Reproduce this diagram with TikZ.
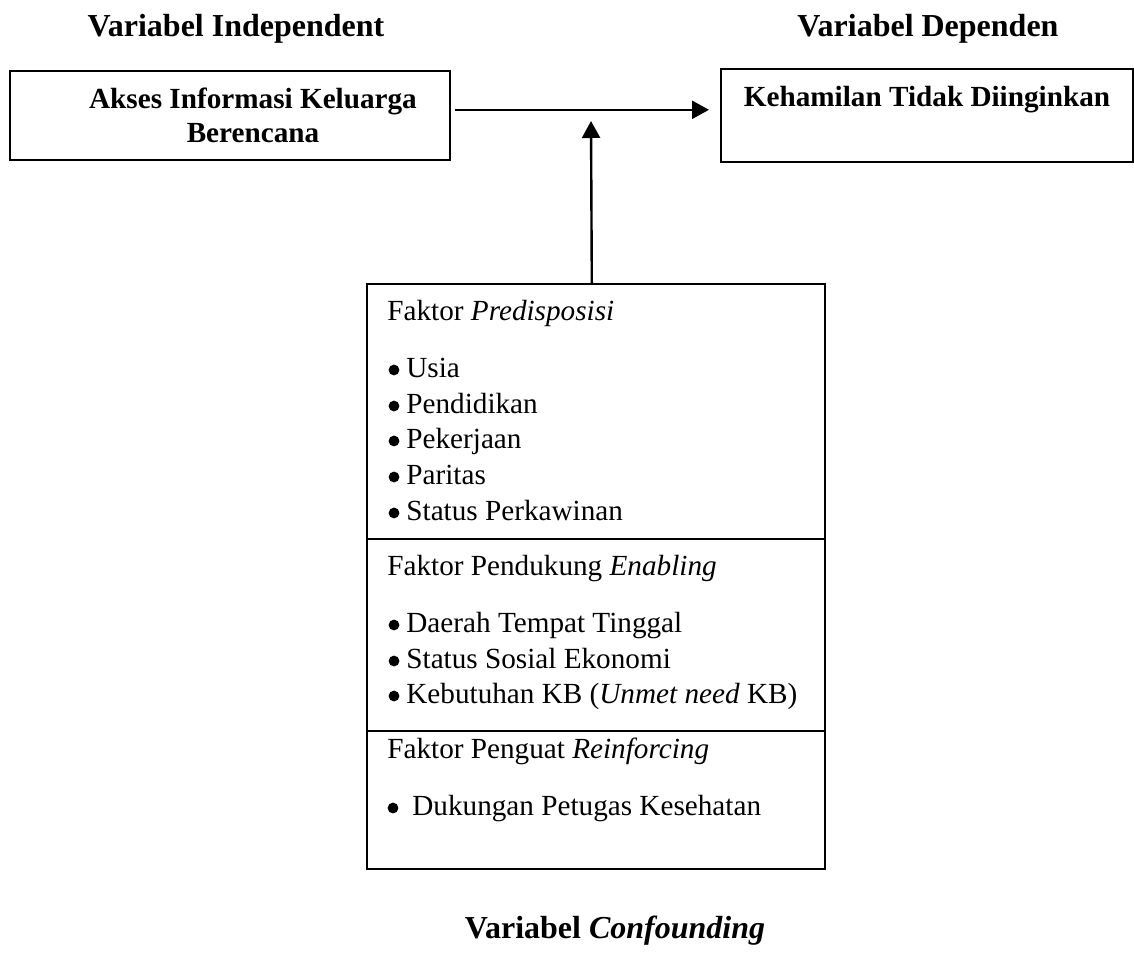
\documentclass[tikz,border=0pt]{standalone}
\usepackage{fontspec}
\setmainfont{Liberation Serif}
\usetikzlibrary{arrows.meta}
\begin{document}
\begin{tikzpicture}[x=0.5pt,y=-0.5pt,
  box/.style={draw, line width=0.8pt, rectangle, inner sep=0pt, anchor=north west},
  head/.style={font=\fontsize{16}{19}\selectfont\bfseries, inner sep=0pt, anchor=base},
  title/.style={font=\fontsize{14.6}{17}\selectfont\bfseries, inner sep=0pt, anchor=base},
  body/.style={font=\fontsize{14.6}{17}\selectfont, inner sep=0pt, anchor=base west},
  bul/.style={circle, fill=black, inner sep=0pt, minimum size=5.4pt},
  arr/.style={line width=1.2pt, -{Triangle[width=9pt,length=8.5pt]}}
]
\useasboundingbox (0,0) rectangle (1134,954);

% headings
\node[head] (hind) at (236,36) {Variabel Independent};
\node[head] (hdep) at (928,36) {Variabel Dependen};
\node[head] (hconf) at (615,938) {Variabel \textit{Confounding}};

% top boxes
\node[box, minimum width=220pt, minimum height=44.5pt] (lbox) at (9,70) {};
\node[title] (lt1) at (253,108) {Akses Informasi Keluarga};
\node[title] (lt2) at (253,142) {Berencana};

\node[box, minimum width=206pt, minimum height=46.5pt] (rbox) at (720,68) {};
\node[title] (rt) at (927,106) {Kehamilan Tidak Diinginkan};

% confounding box, three sections
\node[box, minimum width=229pt, minimum height=127.5pt] (sec1) at (366,283) {};
\node[box, minimum width=229pt, minimum height=96pt] (sec2) at (366,538) {};
\node[box, minimum width=229pt, minimum height=69pt] (sec3) at (366,730) {};

\node[body] (t1) at (387,320) {Faktor \textit{Predisposisi}};
\node[bul] (b11) at (394,370) {};
\node[body] (i11) at (406,377) {Usia};
\node[bul] (b12) at (394,406) {};
\node[body] (i12) at (406,413) {Pendidikan};
\node[bul] (b13) at (394,441) {};
\node[body] (i13) at (406,448) {Pekerjaan};
\node[bul] (b14) at (394,477) {};
\node[body] (i14) at (406,484) {Paritas};
\node[bul] (b15) at (394,513) {};
\node[body] (i15) at (406,520) {Status Perkawinan};

\node[body] (t2) at (387,575) {Faktor Pendukung \textit{Enabling}};
\node[bul] (b21) at (394,625) {};
\node[body] (i21) at (406,632) {Daerah Tempat Tinggal};
\node[bul] (b22) at (394,661) {};
\node[body] (i22) at (406,668) {Status Sosial Ekonomi};
\node[bul] (b23) at (394,696) {};
\node[body] (i23) at (406,703) {Kebutuhan KB (\textit{Unmet need} KB)};

\node[body] (t3) at (387,758) {Faktor Penguat \textit{Reinforcing}};
\node[bul] (b31) at (393,808) {};
\node[body] (i31) at (412,815) {Dukungan Petugas Kesehatan};

% connectors
\coordinate (mid) at (591,121);
\draw[arr] ([xshift=2pt,yshift=2.75pt]lbox.east) -- ([xshift=-5.5pt,yshift=2.75pt]rbox.west);
\draw[arr] ([xshift=-2pt]sec1.north) -- (mid);
\end{tikzpicture}
\end{document}
